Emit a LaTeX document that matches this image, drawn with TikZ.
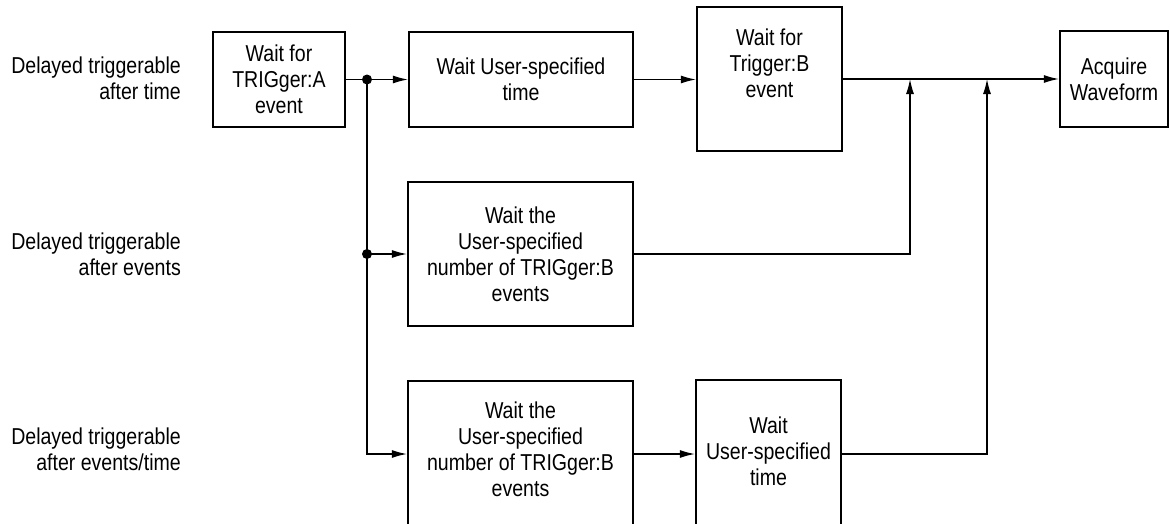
\documentclass[tikz,border=0pt]{standalone}
\usepackage{fontspec}
\setmainfont{Liberation Sans}[FakeStretch=0.85]
\usetikzlibrary{arrows.meta}
\begin{document}
\begin{tikzpicture}[x=1pt,y=-1pt,
  box/.style={draw, line width=2.2pt, inner sep=0pt, align=center, font=\fontsize{23}{26}\selectfont},
  txt/.style={inner sep=0pt, align=center, font=\fontsize{23}{26}\selectfont},
  lbl/.style={inner sep=0pt, anchor=east, align=right, font=\fontsize{23}{26}\selectfont},
  conn/.style={line width=1.3pt},
  arr/.style={conn, -{Latex[length=15pt,width=8pt]}},
  dot/.style={circle, fill=black, inner sep=0pt, minimum size=10pt}]
\useasboundingbox (0,0) rectangle (1170,523);
% labels
\node[lbl] (l1) at (181,78) {Delayed triggerable\\after time};
\node[lbl] (l2) at (181,254) {Delayed triggerable\\after events};
\node[lbl] (l3) at (181,449) {Delayed triggerable\\after events/time};
% boxes
\node[box, minimum width=132pt, minimum height=95pt] (A) at (279,79.5) {Wait for\\TRIGger:A\\event};
\node[box, minimum width=224pt, minimum height=95pt] (U) at (521,79.5) {Wait User-specified\\time};
\node[box, minimum width=145pt, minimum height=144pt] (B) at (769.5,79) {};
\node[txt] (Bt) at (769.5,63) {Wait for\\Trigger:B\\event};
\node[box, minimum width=108pt, minimum height=96pt] (W) at (1114,79) {Acquire\\Waveform};
\node[box, minimum width=225pt, minimum height=144pt] (M) at (520.5,254) {Wait the\\User-specified\\number of TRIGger:B\\events};
\node[box, minimum width=225pt, minimum height=146pt] (N) at (520.5,454) {};
\node[txt] (Nt) at (520.5,449) {Wait the\\User-specified\\number of TRIGger:B\\events};
\node[box, minimum width=145pt, minimum height=148pt] (T) at (768.5,454) {};
\node[txt] (Tt) at (768.5,451) {Wait\\User-specified\\time};
% junctions
\coordinate (d1) at (367,79.5);
\coordinate (d2) at (367,254);
\coordinate (j1) at (910,79);
\coordinate (j2) at (987,79);
% connectors
\draw[arr] (A.east) -- (U.west);
\draw[conn] (d1) -- (d2);
\draw[arr] (d2) |- (N.west);
\draw[arr] (d2) -- (M.west);
\draw[arr] (U.east) -- (U.east -| B.west);
\draw[arr] (B.east) -- (W.west);
\draw[arr] (M.east) -| (j1);
\draw[arr] (N.east) -- (T.west);
\draw[arr] (T.east) -| (j2);
\node[dot] (D1) at (d1) {};
\node[dot] (D2) at (d2) {};
\end{tikzpicture}
\end{document}
